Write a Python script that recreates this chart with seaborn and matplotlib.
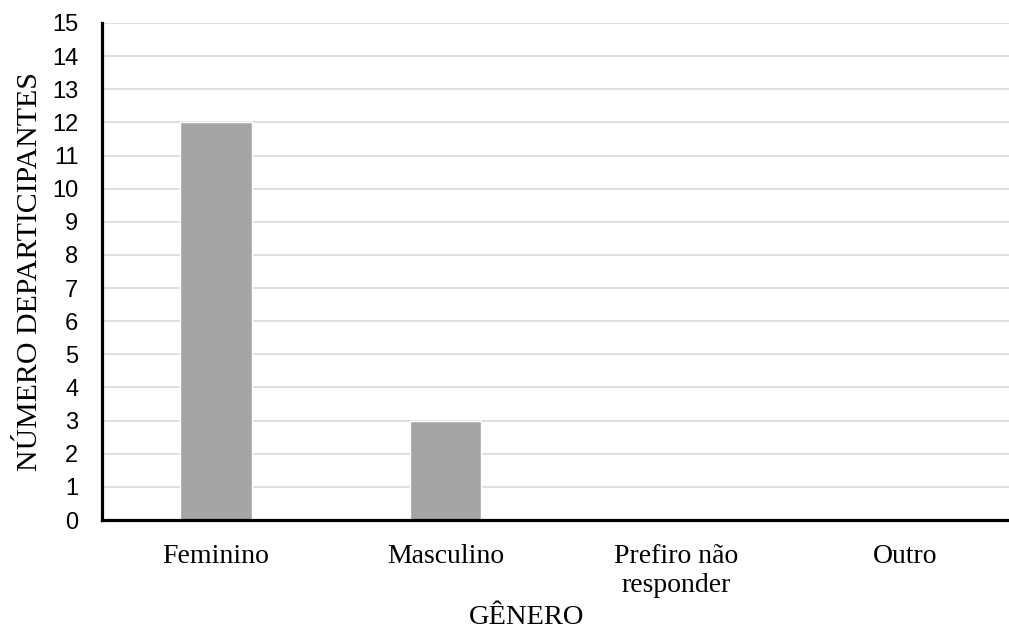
import matplotlib
matplotlib.use("Agg")
import matplotlib.pyplot as plt
import seaborn as sns
import pandas as pd

# Survey responses by gender
categorias = ["Feminino", "Masculino", "Prefiro não\nresponder", "Outro"]
participantes = [12, 3, 0, 0]
y_ticks = list(range(0, 16))

sns.set_theme(style="white")
plt.rcParams["font.family"] = ["Liberation Serif", "DejaVu Serif"]
plt.rcParams["text.color"] = "black"
plt.rcParams["axes.labelcolor"] = "black"
plt.rcParams["xtick.color"] = "black"
plt.rcParams["ytick.color"] = "black"

df = pd.DataFrame({"genero": categorias, "n": participantes})

fig = plt.figure(figsize=(10.09, 6.30), dpi=100)
ax = fig.add_axes([0.1011, 0.1746, 0.8989, 0.7889])

sns.barplot(data=df, x="genero", y="n", color="#A5A5A5", saturation=1,
            width=0.31, ax=ax, zorder=3)

ax.set_ylim(0, 15)
ax.set_xlim(-0.496, 3.45)
ax.set_yticks(y_ticks)
ax.set_yticklabels([str(v) for v in y_ticks], fontfamily="Liberation Sans",
                   fontsize=17)
ax.tick_params(axis="y", length=0, pad=17, labelcolor="black")
ax.tick_params(axis="x", length=0, pad=17, labelsize=20, labelcolor="black")
for lbl in ax.get_xticklabels():
    lbl.set_linespacing(1.25)

ax.yaxis.grid(True, color="#D9D9D9", linewidth=1.2, zorder=0)
ax.xaxis.grid(False)
ax.set_axisbelow(True)

for side in ("top", "right"):
    ax.spines[side].set_visible(False)
for side in ("left", "bottom"):
    ax.spines[side].set_color("black")
    ax.spines[side].set_linewidth(2.3)
    ax.spines[side].set_zorder(5)

ax.set_ylabel("NÚMERO DEPARTICIPANTES", fontsize=21.5)
ax.set_xlabel("GÊNERO", fontsize=20.5)
ax.yaxis.set_label_coords(-0.065, 0.5)
ax.xaxis.set_label_coords(0.468, -0.171)

fig.savefig("out.png", dpi=100)
